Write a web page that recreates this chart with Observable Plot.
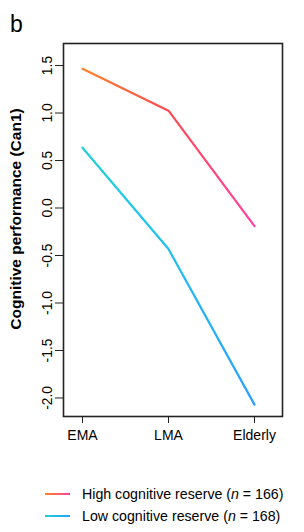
<!DOCTYPE html>
<html>
<head>
<meta charset="utf-8">
<script src="https://cdn.jsdelivr.net/npm/d3@7"></script>
<script src="https://cdn.jsdelivr.net/npm/@observablehq/plot@0.6"></script>
<style>
  html, body { margin: 0; padding: 0; background: #fff; }
  #wrap { position: relative; width: 304px; height: 532px; font-family: "Liberation Sans", Arial, sans-serif; color: #000; }
  #panel { position: absolute; left: 10px; top: 13px; font-size: 23px; line-height: 1; }
  #chart { position: absolute; left: 0; top: 0; }
  .leg { position: absolute; left: 45px; width: 240px; height: 20px; font-size: 14.2px; }
  .leg .sw { position: absolute; left: 0; top: 9px; width: 25px; height: 2px; }
  .leg .tx { position: absolute; left: 37px; top: 0; line-height: 20px; white-space: nowrap; }
</style>
</head>
<body>
<div id="wrap">
  <div id="chart"></div>
  <div id="panel">b</div>
  <div class="leg" style="top:484px"><div class="sw" id="sw1"></div><div class="tx" id="tx1"></div></div>
  <div class="leg" style="top:505.5px"><div class="sw" id="sw2"></div><div class="tx" id="tx2"></div></div>
</div>
<script>
// ---- data ----
const groups = ["EMA", "LMA", "Elderly"];
const highValues = [1.465, 1.025, -0.19];
const lowValues = [0.635, -0.432, -2.07];
const yTicks = [-2.0, -1.5, -1.0, -0.5, 0.0, 0.5, 1.0, 1.5];
const seriesNames = ["High cognitive reserve", "Low cognitive reserve"];
const seriesN = [166, 168];
const highColors = ["#FF8227", "#FF4A50", "#FF3FA3"];
const lowColors = ["#1ED2D6", "#1FBFEF", "#2A9FFF"];
const yTitle = "Cognitive performance (Can1)";

const highData = groups.map((g, i) => ({group: g, value: highValues[i]}));
const lowData = groups.map((g, i) => ({group: g, value: lowValues[i]}));

const font = "Liberation Sans, Arial, sans-serif";

const chart = Plot.plot({
  width: 304,
  height: 460,
  marginLeft: 63,
  marginTop: 43,
  marginRight: 22,
  marginBottom: 44,
  style: {fontFamily: font, fontSize: "14px", color: "#000", background: "#fff"},
  x: {type: "point", domain: groups, padding: 0, insetLeft: 17.7, insetRight: 27.4},
  y: {domain: [-2.195, 1.732]},
  marks: [
    Plot.line(highData, {x: "group", y: "value", stroke: "url(#gHigh)", strokeWidth: 2.2}),
    Plot.line(lowData, {x: "group", y: "value", stroke: "url(#gLow)", strokeWidth: 2.2}),
    Plot.frame({stroke: "#222", strokeWidth: 1.6}),
    Plot.axisY(yTicks, {tickFormat: d => d.toFixed(1), tickRotate: -90, tickSize: 8, tickPadding: 4, label: null, fontSize: 13.8, stroke: "#222"}),
    Plot.axisX(groups, {tickSize: 7, tickPadding: 6.5, label: null, fontSize: 14, stroke: "#222"}),
    Plot.text([yTitle], {text: d => d, frameAnchor: "left", textAnchor: "middle", lineAnchor: "middle", dx: -47, dy: -11, rotate: -90, fontSize: 15.5, fontWeight: "bold"})
  ]
});

const xs = chart.scale("x");
const x1 = xs.apply(groups[0]), x2 = xs.apply(groups[groups.length - 1]);
const svg = d3.select(chart);
const defs = svg.insert("defs", ":first-child");
function grad(id, colors) {
  const g = defs.append("linearGradient").attr("id", id)
    .attr("gradientUnits", "userSpaceOnUse")
    .attr("x1", x1).attr("x2", x2).attr("y1", 0).attr("y2", 0);
  colors.forEach((c, i) => g.append("stop").attr("offset", i / (colors.length - 1)).attr("stop-color", c));
}
grad("gHigh", highColors);
grad("gLow", lowColors);

document.getElementById("chart").appendChild(chart);

document.getElementById("sw1").style.background = `linear-gradient(to right, ${highColors[0]}, ${highColors[2]})`;
document.getElementById("sw2").style.background = `linear-gradient(to right, ${lowColors[0]}, ${lowColors[2]})`;
document.getElementById("tx1").innerHTML = `${seriesNames[0]} (<i>n</i> = ${seriesN[0]})`;
document.getElementById("tx2").innerHTML = `${seriesNames[1]} (<i>n</i> = ${seriesN[1]})`;
</script>
</body>
</html>
